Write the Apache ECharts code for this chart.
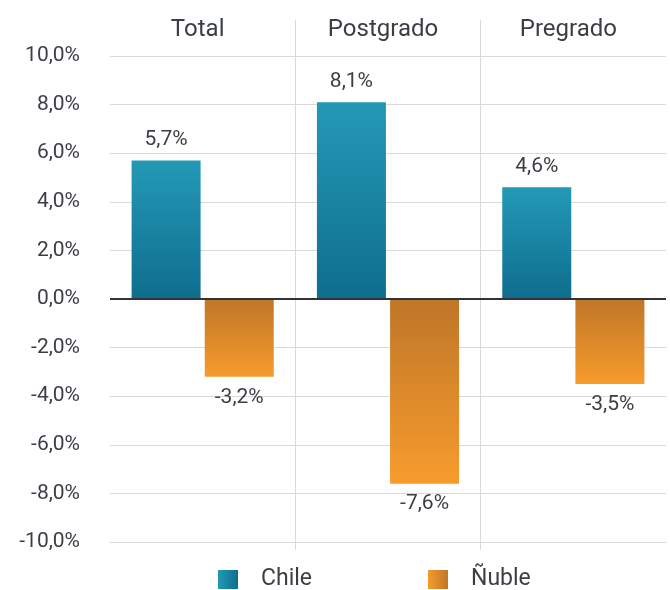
<!DOCTYPE html>
<html>
<head>
<meta charset="utf-8">
<script src="https://cdn.jsdelivr.net/npm/echarts@6/dist/echarts.min.js"></script>
<style>
  html, body { margin: 0; padding: 0; background: #fff; }
  #chart { width: 670px; height: 590px; }
</style>
</head>
<body>
<div id="chart"></div>
<script>
// datos
var categorias = ['Total', 'Postgrado', 'Pregrado'];
var chile = [5.7, 8.1, 4.6];
var nuble = [-3.2, -7.6, -3.5];
var ejeMin = -10, ejeMax = 10, ejePaso = 2;

var textColor = '#3b3f45';
var fuente = 'Roboto';

function pct(v) {
  return v.toFixed(1).replace('.', ',') + '%';
}

var gradChile = new echarts.graphic.LinearGradient(0, 0, 0, 1, [
  { offset: 0, color: '#2399b6' },
  { offset: 1, color: '#0f6d8e' }
]);
var gradNuble = new echarts.graphic.LinearGradient(0, 0, 0, 1, [
  { offset: 0, color: '#bf7628' },
  { offset: 1, color: '#f79b2c' }
]);

var myChart = echarts.init(document.getElementById('chart'));

var option = {
  animation: false,
  textStyle: { fontFamily: fuente, color: textColor },
  grid: { left: 110, right: 4, top: 56, bottom: 48 },
  legend: {
    left: 218,
    top: 568,
    padding: 0,
    itemWidth: 20,
    itemHeight: 19,
    itemGap: 116,
    icon: 'rect',
    textStyle: { fontSize: 23, color: textColor, fontFamily: fuente, padding: [0, 0, 0, 18] },
    data: [
      { name: 'Chile', itemStyle: { color: new echarts.graphic.LinearGradient(0, 0, 1, 0, [
        { offset: 0, color: '#2399b6' }, { offset: 1, color: '#0f6d8e' }]) } },
      { name: 'Ñuble', itemStyle: { color: new echarts.graphic.LinearGradient(0, 0, 1, 0, [
        { offset: 0, color: '#f79b2c' }, { offset: 1, color: '#bf7628' }]) } }
    ]
  },
  xAxis: [
    {
      type: 'category',
      position: 'top',
      data: categorias,
      axisLine: { show: false },
      axisTick: { show: false },
      axisLabel: { fontSize: 24, color: textColor, margin: 14, padding: [0, 10, 0, 0] },
      splitLine: { show: false }
    },
    {
      // separadores entre categorias (arriba y dentro del grafico)
      type: 'value',
      position: 'top',
      min: 0, max: categorias.length, interval: 1,
      axisLine: { show: false },
      axisLabel: { show: false },
      axisTick: { show: true, customValues: [1, 2], length: 36, lineStyle: { color: '#d9d9d9' } },
      splitLine: { show: true, lineStyle: { color: '#d9d9d9' } }
    },
    {
      // separadores entre categorias (abajo)
      type: 'value',
      position: 'bottom',
      min: 0, max: categorias.length, interval: 1,
      axisLine: { show: false },
      axisLabel: { show: false },
      axisTick: { show: true, customValues: [1, 2], length: 8, lineStyle: { color: '#d9d9d9' } },
      splitLine: { show: false }
    }
  ],
  yAxis: {
    type: 'value',
    min: ejeMin,
    max: ejeMax,
    interval: ejePaso,
    axisLine: { show: false },
    axisTick: { show: false },
    axisLabel: { fontSize: 21, color: textColor, margin: 30, formatter: pct },
    splitLine: { lineStyle: { color: '#d9d9d9', width: 1 } }
  },
  series: [
    {
      name: 'Chile',
      type: 'bar',
      data: chile,
      barWidth: 69,
      barGap: '6%',
      itemStyle: { color: gradChile },
      label: {
        show: true, position: 'top', distance: 10,
        fontSize: 21, color: textColor,
        formatter: function (p) { return pct(p.value); }
      },
      markLine: {
        silent: true,
        symbol: 'none',
        label: { show: false },
        lineStyle: { color: '#333', width: 2, type: 'solid' },
        data: [{ yAxis: 0 }]
      }
    },
    {
      name: 'Ñuble',
      type: 'bar',
      data: nuble,
      barWidth: 69,
      itemStyle: { color: gradNuble },
      label: {
        show: true, position: 'bottom', distance: 10,
        fontSize: 21, color: textColor,
        formatter: function (p) { return pct(p.value); }
      }
    }
  ]
};

myChart.setOption(option);
window.addEventListener('resize', function () {
  myChart.resize();
});
</script>
</body>
</html>
